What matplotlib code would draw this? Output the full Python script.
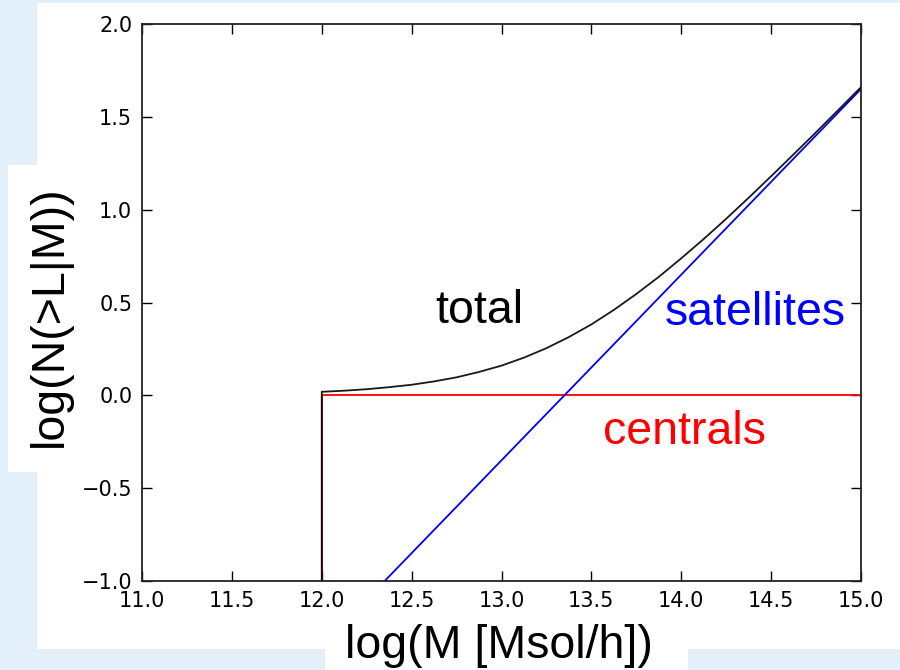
import matplotlib
matplotlib.use("Agg")
import matplotlib.pyplot as plt
from matplotlib.patches import Rectangle

# --- data ---
# satellites: straight line in log-log, clipped by the axes
sat_logm = [11.0, 15.0]
sat_logn = [-2.35, 1.65]

# centrals: step at logM = 12
cen_logm = [12.0, 12.0, 15.0]
cen_logn = [-1.0, 0.0, 0.0]

# total = centrals + satellites
tot_logm = [12.0, 12.0, 12.125, 12.25, 12.375, 12.5, 12.625, 12.75, 12.875,
            13.0, 13.125, 13.25, 13.375, 13.5, 13.625, 13.75, 13.875,
            14.0, 14.125, 14.25, 14.375, 14.5, 14.625, 14.75, 14.875, 15.0]
tot_logn = [-1.0, 0.019, 0.025, 0.033, 0.044, 0.057, 0.075, 0.097, 0.126,
            0.160, 0.203, 0.254, 0.314, 0.382, 0.460, 0.546, 0.638,
            0.738, 0.842, 0.951, 1.064, 1.180, 1.298, 1.417, 1.538, 1.660]

xticks = [11.0, 11.5, 12.0, 12.5, 13.0, 13.5, 14.0, 14.5, 15.0]
yticks = [-1.0, -0.5, 0.0, 0.5, 1.0, 1.5, 2.0]

W, H = 900, 670
fig = plt.figure(figsize=(9, 6.7), dpi=100)
fig.patch.set_facecolor('#e4f0f9')


def px_box(x0, y0, x1, y1):
    # rectangle given in pixel coords (origin top-left)
    r = Rectangle((x0 / W, 1 - y1 / H), (x1 - x0) / W, (y1 - y0) / H,
                  transform=fig.transFigure, facecolor='white',
                  edgecolor='none', zorder=-10)
    fig.add_artist(r)


# slide panels behind the plot
px_box(37, 3, 900, 649)
px_box(8, 165, 60, 472)
px_box(325, 600, 688, 670)

ax = fig.add_axes([142 / W, 1 - 581 / H, (861 - 142) / W, (581 - 24) / H])
ax.set_facecolor('white')

ax.plot(cen_logm, cen_logn, color='red', lw=1.3)
ax.plot(sat_logm, sat_logn, color='blue', lw=1.3)
ax.plot(tot_logm, tot_logn, color='black', lw=1.3, alpha=0.9)

ax.set_xlim(11.0, 15.0)
ax.set_ylim(-1.0, 2.0)
ax.set_xticks(xticks)
ax.set_yticks(yticks)
ax.set_xticklabels([f"{v:.1f}" for v in xticks])
ax.set_yticklabels([f"{v:.1f}".replace('-', '\u2212') for v in yticks])
ax.tick_params(direction='in', top=True, right=True, length=7, width=1,
               labelsize=15, pad=7, colors='black')
for s in ax.spines.values():
    s.set_linewidth(1.3)
    s.set_color('#222222')

lab = dict(family='Liberation Sans', fontsize=33.5, va='baseline', ha='center')
ax.text(12.875, 0.39, "total", color='black', **lab)
ax.text(14.41, 0.38, "satellites", color='blue', **lab)
ax.text(14.02, -0.26, "centrals", color='red', **lab)

fig.text(499 / W, 1 - 658 / H, "log(M [Msol/h])", color='black', **lab)
fig.text(62 / W, 1 - 316 / H, "log(N(>L|M))", color='black', rotation=90,
         rotation_mode='anchor', **lab)

fig.savefig("out.png", dpi=100, facecolor=fig.get_facecolor())
